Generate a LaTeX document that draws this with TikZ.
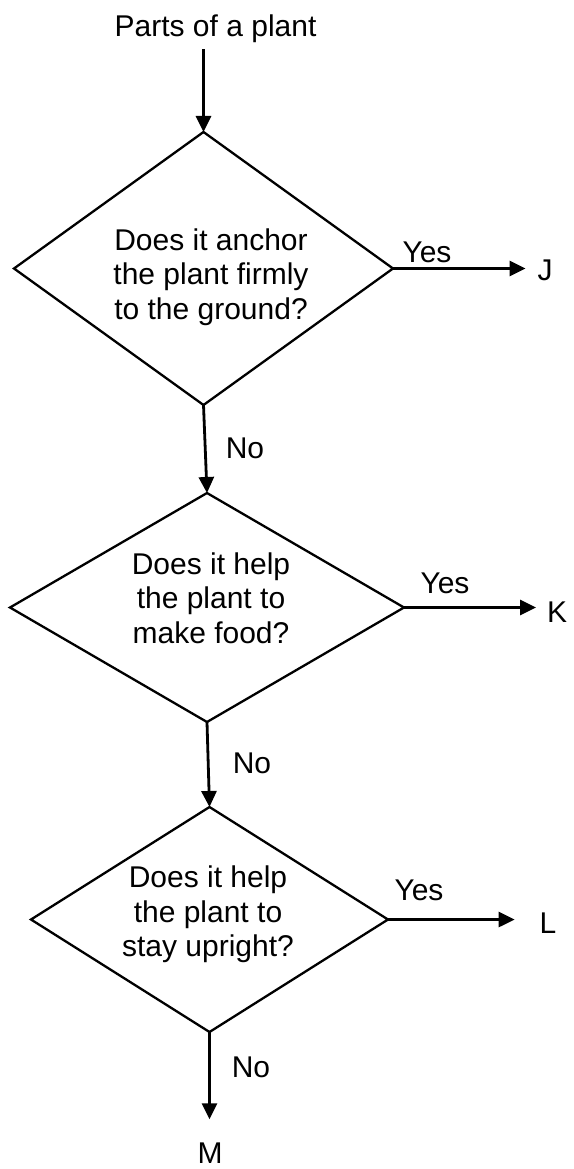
\documentclass[tikz,border=0pt]{standalone}
\usepackage{fontspec}
\setmainfont{Liberation Sans}
\usetikzlibrary{shapes.geometric,arrows.meta}
\begin{document}
\begin{tikzpicture}[x=1pt,y=-1pt,
  lbl/.style={inner sep=0pt,outer sep=0pt,font=\fontsize{30}{34.5}\selectfont},
  qtext/.style={lbl,align=center},
  dia/.style={draw,line width=2.3pt,diamond,inner sep=0pt,outer sep=0pt},
  arr/.style={line width=2.8pt,-{Triangle[length=16pt,width=15pt]}}]
\useasboundingbox (0,0) rectangle (573,1169);
% title
\node[lbl,anchor=base] (title) at (215.5,37) {Parts of a plant};
% diamonds
\node[dia,minimum width=379pt,minimum height=273pt] (d1) at (203.5,268.5) {};
\node[dia,minimum width=394pt,minimum height=229pt] (d2) at (207,607.5) {};
\node[dia,minimum width=357pt,minimum height=225pt] (d3) at (209.5,919.5) {};
% question texts
\node[qtext] (t1) at (211,277) {Does it anchor\\the plant firmly\\to the ground?};
\node[qtext] (t2) at (211,598) {Does it help\\the plant to\\make food?};
\node[qtext] (t3) at (208,914.5) {Does it help\\the plant to\\stay upright?};
% outcomes
\node[lbl,anchor=base] (J) at (545,280) {J};
\node[lbl,anchor=base] (K) at (557,622) {K};
\node[lbl,anchor=base] (L) at (548,933) {L};
\node[lbl,anchor=base] (M) at (210,1163) {M};
% edge labels
\node[lbl,anchor=base] (y1) at (427,262) {Yes};
\node[lbl,anchor=base] (y2) at (445,593) {Yes};
\node[lbl,anchor=base] (y3) at (419,900) {Yes};
\node[lbl,anchor=base] (n1) at (245,458) {No};
\node[lbl,anchor=base] (n2) at (252,773) {No};
\node[lbl,anchor=base] (n3) at (251,1077) {No};
% connectors
\coordinate (start) at (d1.north |- title.south);
\draw[arr,shorten <=6pt] (start) -- (d1.north);
\draw[arr] (d1.south) -- (d2.north);
\draw[arr] (d2.south) -- (d3.north);
\draw[arr,shorten >=23pt] (d3.south) -- (d3.south |- M.north);
\draw[arr,shorten >=12pt] (d1.east) -- (d1.east -| J.west);
\draw[arr,shorten >=11pt] (d2.east) -- (d2.east -| K.west);
\draw[arr,shorten >=25pt] (d3.east) -- (d3.east -| L.west);
\end{tikzpicture}
\end{document}
